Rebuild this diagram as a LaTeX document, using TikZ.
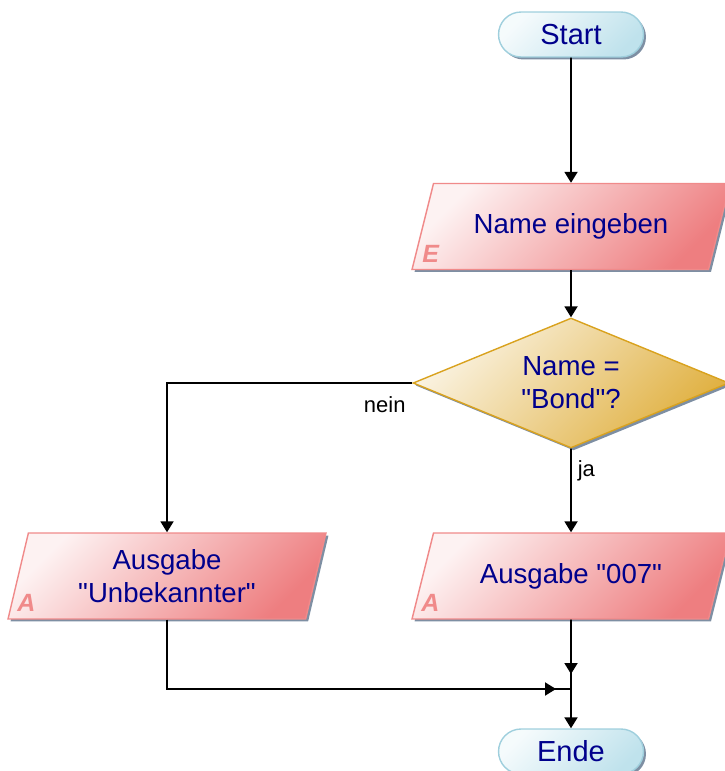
\documentclass[tikz,border=0pt]{standalone}
\usepackage{fontspec}
\setmainfont{Liberation Sans}[Ligatures=TeXOff]
\usetikzlibrary{shapes.geometric, shadows, arrows.meta, decorations.markings, calc}

\definecolor{termfill}{HTML}{BFE2EC}
\definecolor{termline}{HTML}{9FCFDD}
\definecolor{iofill}{HTML}{EE7E80}
\definecolor{ioline}{HTML}{F08A8A}
\definecolor{decfill}{HTML}{E0B040}
\definecolor{decline}{HTML}{D9A21E}
\definecolor{txtblue}{HTML}{00008C}
\definecolor{shadowgrey}{HTML}{7E8FA3}

\begin{document}
\begin{tikzpicture}[x=0.02cm, y=-0.02cm]
  \def\arrowtip{Triangle[length=0.22cm, width=0.26cm]}
  \tikzstyle{shadowed} = [drop shadow={shadow xshift=0.05cm, shadow yshift=-0.05cm, fill=shadowgrey, opacity=1}]
  \tikzstyle{terminal} = [rectangle, rounded corners=0.45cm, draw=termline, line width=0.8pt, shadowed,
    top color=termfill!15, bottom color=termfill, shading angle=45, text=txtblue,
    minimum width=2.9cm, minimum height=0.9cm, inner sep=0pt, font=\fontsize{16.5pt}{19pt}\selectfont]
  \tikzstyle{io} = [trapezium, trapezium left angle=75.6, trapezium right angle=104.4, trapezium stretches body,
    draw=ioline, line width=0.8pt, shadowed, top color=iofill!10, bottom color=iofill, shading angle=45,
    text=txtblue, minimum width=6.36cm, minimum height=1.72cm, inner xsep=0pt, inner ysep=0.58cm,
    align=center, font=\fontsize{15.7pt}{18.8pt}\selectfont]
  \tikzstyle{decision} = [diamond, aspect=2.4, draw=decline, line width=0.8pt, shadowed,
    top color=decfill!15, bottom color=decfill, shading angle=45, text=txtblue,
    minimum width=6.32cm, minimum height=2.6cm, inner sep=0pt, align=center,
    font=\fontsize{15.7pt}{18.8pt}\selectfont]
  \tikzstyle{ioletter} = [text=ioline, inner sep=0pt, anchor=base west,
    font=\fontsize{14.2pt}{16pt}\selectfont\bfseries\itshape]
  \tikzstyle{branchtext} = [text=black, font=\fontsize{12.5pt}{15pt}\selectfont]
  \tikzstyle{flow} = [line width=1.1pt, -{\arrowtip}]
  \tikzstyle{joinflow} = [line width=1.1pt, postaction={decorate},
    decoration={markings, mark=at position -0.3cm with {\arrow{\arrowtip}}}]

  \useasboundingbox (0,0) rectangle (724,771);

  \node[terminal] (start) at (571,34.5) {Start};
  \node[io] (input) at (571,226.5) {Name eingeben};
  \node[ioletter] (inE) at ($(input.bottom left corner)+(11,-8)$) {E};
  \node[decision] (check) at (571,383) {Name =\\"Bond"?};
  \node[io, inner ysep=0.26cm] (outunknown) at (167,576) {Ausgabe\\"Unbekannter"};
  \node[ioletter] (unknownA) at ($(outunknown.bottom left corner)+(10,-8)$) {A};
  \node[io] (out007) at (571,576) {Ausgabe "007"};
  \node[ioletter] (bondA) at ($(out007.bottom left corner)+(10,-8)$) {A};
  \node[terminal] (ende) at (571,751.5) {Ende};
  \coordinate (join) at (571,689);

  \draw[flow] (start) -- (input);
  \draw[flow] (input) -- (check);
  \draw[flow] (check.west) -| node[branchtext, pos=0, below left, yshift=-4pt] (nein) {nein} (outunknown.north);
  \draw[flow] (check.south) -- node[branchtext, pos=0.27, right] (ja) {ja} (out007.north);
  \draw[joinflow] (out007) -- (join);
  \draw[joinflow] (outunknown) |- (join);
  \draw[flow] (join) -- (ende);

\end{tikzpicture}
\end{document}
